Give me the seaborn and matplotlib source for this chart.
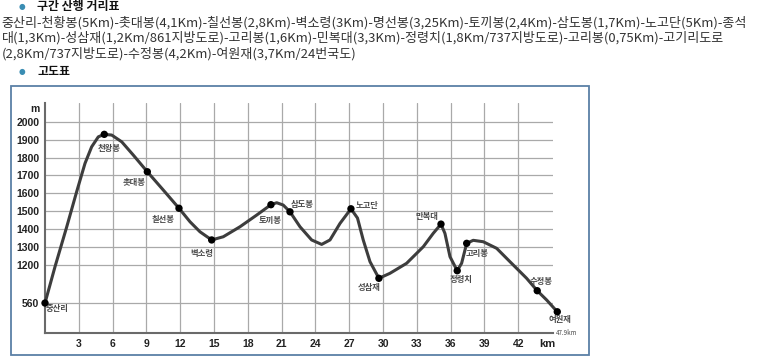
import matplotlib
matplotlib.use("Agg")
import matplotlib.pyplot as plt
from matplotlib.patches import Rectangle
import numpy as np
import pandas as pd
import seaborn as sns

# ---- text ----
SECTION_TITLE = "구간 산행 거리표"
ROUTE_LINES = [
    "중산리-천황봉(5Km)-촛대봉(4,1Km)-칠선봉(2,8Km)-벽소령(3Km)-명선봉(3,25Km)-토끼봉(2,4Km)-삼도봉(1,7Km)-노고단(5Km)-종석",
    "대(1,3Km)-성삼재(1,2Km/861지방도로)-고리봉(1,6Km)-민복대(3,3Km)-정령치(1,8Km/737지방도로)-고리봉(0,75Km)-고기리도로",
    "(2,8Km/737지방도로)-수정봉(4,2Km)-여원재(3,7Km/24번국도)",
]
CHART_TITLE = "고도표"
TOTAL_LABEL = "47.9km"

# ---- elevation profile (km, m) ----
profile_km = [0, 0.89, 1.93, 2.81, 3.55, 4.14, 4.73, 5.26, 5.92, 6.81, 7.83, 9.08,
              10.50, 11.89, 12.87, 13.75, 14.79, 15.82, 17.30, 18.79, 20.05, 20.56,
              21.14, 21.74, 22.63, 23.66, 24.55, 25.29, 26.18, 27.15, 27.73, 28.24,
              28.84, 29.63, 30.61, 32.09, 33.57, 34.45, 35.14, 35.49, 35.94, 36.58,
              36.97, 37.42, 38.00, 38.89, 40.08, 41.26, 42.74, 43.68, 44.52, 45.46]
profile_elev = [560, 1165, 1412, 1609, 1768, 1861, 1917, 1931, 1927, 1889, 1815, 1721,
                1618, 1516, 1440, 1384, 1338, 1356, 1412, 1478, 1536, 1547,
                1534, 1496, 1412, 1338, 1313, 1338, 1431, 1513, 1461, 1338,
                1216, 971, 1054, 1207, 1300, 1375, 1427, 1375, 1244, 1097,
                1207, 1319, 1336, 1328, 1291, 1216, 971, 765, 610, 415]

peak_names = ["중산리", "천왕봉", "촛대봉", "칠선봉", "벽소령", "토끼봉", "삼도봉",
              "노고단", "성삼재", "만복대", "정령치", "고리봉", "수정봉", "여원재"]
peak_km = [0, 5.26, 9.08, 11.89, 14.79, 20.05, 21.74, 27.15, 29.63, 35.14, 36.58,
           37.42, 43.68, 45.46]
peak_elev = [560, 1931, 1721, 1516, 1338, 1536, 1496, 1513, 971, 1427, 1097, 1319,
             765, 415]

x_ticks = [3, 6, 9, 12, 15, 18, 21, 24, 27, 30, 33, 36, 39, 42]
y_ticks = [560, 1200, 1300, 1400, 1500, 1600, 1700, 1800, 1900, 2000]

# label offsets (points) for each peak name
LABEL_OFFSETS = {
    "중산리": (9, -3.6), "천왕봉": (3.6, -10), "촛대봉": (-9.4, -7.9),
    "칠선봉": (-11.5, -7.9), "벽소령": (-7.2, -9.4), "토끼봉": (-0.7, -11.5),
    "삼도봉": (8.6, 5), "노고단": (11.5, 2.2), "성삼재": (-7.2, -6.5),
    "만복대": (-10, 5.8), "정령치": (2.9, -6.5), "고리봉": (7.2, -7.2),
    "수정봉": (2.9, 6.5), "여원재": (2.2, -5.8),
}

W, H = 758, 358
BREAK = 1200
K = 0.3378  # compression below the axis break


def fwd(e):
    e = np.asarray(e, dtype=float)
    return np.where(e >= BREAK, e, BREAK - (BREAK - e) * K)


def inv(v):
    v = np.asarray(v, dtype=float)
    return np.where(v >= BREAK, v, BREAK - (BREAK - v) / K)


def fx(x):
    return x / W


def fy(y):
    return 1 - y / H


sns.set_style("white")
plt.rcParams["font.family"] = ["Noto Sans CJK KR", "DejaVu Sans"]

fig = plt.figure(figsize=(W / 100, H / 100), dpi=100)
ax = fig.add_axes([fx(45), fy(333), fx(553) - fx(45), fy(103) - fy(333)])

profile = pd.DataFrame({"km": profile_km, "elev": profile_elev})
peaks = pd.DataFrame({"name": peak_names, "km": peak_km, "elev": peak_elev})

ax.set_yscale("function", functions=(fwd, inv))
sns.lineplot(data=profile, x="km", y="elev", ax=ax, color="#3d3d3d", lw=2.2,
             sort=False, clip_on=False, zorder=3)
sns.scatterplot(data=peaks, x="km", y="elev", ax=ax, color="black", s=28,
                edgecolor="none", clip_on=False, zorder=4)

ax.set_xlim(0, 45.08)
ax.set_ylim(62, 2107)
ax.set_xticks(x_ticks)
ax.set_yticks(y_ticks)
ax.set_xticklabels([str(t) for t in x_ticks])
ax.set_yticklabels([str(t) for t in y_ticks])
ax.yaxis.set_minor_locator(matplotlib.ticker.NullLocator())
ax.tick_params(length=0, labelsize=7.5, colors="#222222")
ax.tick_params(axis="y", pad=4)
ax.tick_params(axis="x", pad=4.5)
for lab in ax.get_xticklabels() + ax.get_yticklabels():
    lab.set_fontfamily(["Liberation Sans", "DejaVu Sans"])
    lab.set_fontweight("bold")
ax.set_xlabel("")
ax.set_ylabel("")
ax.grid(True, color="#a9a9a9", lw=0.9)
for side in ("top", "right"):
    ax.spines[side].set_visible(False)
for side in ("left", "bottom"):
    ax.spines[side].set_color("#6a6a6a")
    ax.spines[side].set_linewidth(1.5)

for name, km, elev in zip(peak_names, peak_km, peak_elev):
    dx, dy = LABEL_OFFSETS[name]
    ax.annotate(name, (km, elev), xytext=(dx, dy), textcoords="offset points",
                ha="center", va="center", fontsize=6, fontweight="bold",
                color="#4a4a4a", annotation_clip=False)
ax.annotate(TOTAL_LABEL, (peak_km[-1], peak_elev[-1]), xytext=(6.8, -15),
            textcoords="offset points", ha="center", va="center", fontsize=4.5,
            color="#4a4a4a", annotation_clip=False)

fig.text(fx(35), fy(109), "m", ha="center", va="center", fontsize=7.5,
         fontweight="bold", color="#222222", family=["Liberation Sans", "DejaVu Sans"])
fig.text(fx(547), fy(344), "km", ha="center", va="center", fontsize=8,
         fontweight="bold", color="#222222", family=["Liberation Sans", "DejaVu Sans"])

# header texts
bullet = "#3a8db3"
fig.text(fx(21.7), fy(6.5), "●", ha="center", va="center", fontsize=5.5, color=bullet,
         family=["DejaVu Sans"])
fig.text(fx(37), fy(6.5), SECTION_TITLE, ha="left", va="center", fontsize=8.6,
         fontweight="bold", color="#111111")

route_texts = []
for i, line in enumerate(ROUTE_LINES):
    t = fig.text(fx(1.5), fy(22.7 + i * 15.3), line, ha="left", va="center",
                 fontsize=9, color="#333333")
    route_texts.append(t)

# fit the first (longest) route line to the width seen in the reference
renderer = fig.canvas.get_renderer()
width = route_texts[0].get_window_extent(renderer).width
size = 9 * (744 / width)
for t in route_texts:
    t.set_fontsize(size)

fig.text(fx(21.7), fy(71.7), "●", ha="center", va="center", fontsize=5.5, color=bullet,
         family=["DejaVu Sans"])
fig.text(fx(37), fy(71.7), CHART_TITLE, ha="left", va="center", fontsize=8.6,
         fontweight="bold", color="#111111")

fig.add_artist(Rectangle((fx(10.5), fy(355)), fx(589) - fx(10.5), fy(86) - fy(355),
                         transform=fig.transFigure, fill=False,
                         edgecolor="#5b80a6", lw=1.3))

fig.savefig("out.png", dpi=100)
